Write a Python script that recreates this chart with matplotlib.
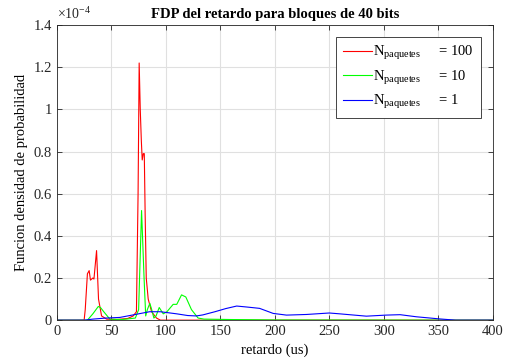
import matplotlib.pyplot as plt
from matplotlib.ticker import FuncFormatter

# retardo (us) vs densidad (x 1e-4)
x_100 = [0, 25, 26, 28, 29.6, 30.8, 33, 34, 36.4, 38.2, 41, 45.6, 55, 65, 70, 73,
         74.5, 75.5, 76.5, 77.5, 78.3, 79.3, 80.2, 81, 82, 83.8, 86.9, 91.4, 95, 400]
y_100 = [0, 0, 0.05, 0.22, 0.235, 0.19, 0.20, 0.195, 0.33, 0.10, 0.02, 0.005, 0.003, 0.008, 0.02, 0.04,
         0.6, 1.22, 1.0, 0.85, 0.76, 0.79, 0.79, 0.5, 0.2, 0.1, 0.04, 0.01, 0, 0]

x_10 = [0, 28, 33, 38, 40, 43, 48.6, 60, 72, 75, 77.7, 80, 81.5, 83, 85.3, 87, 89, 91,
        93.9, 97.6, 101, 106.7, 110, 114.4, 118.3, 123.5, 129.6, 135, 160, 200, 400]
y_10 = [0, 0, 0.03, 0.065, 0.06, 0.04, 0.005, 0.003, 0.01, 0.05, 0.52, 0.2, 0.02, 0.05, 0.08, 0.05, 0.01, 0.02,
        0.06, 0.03, 0.04, 0.075, 0.075, 0.12, 0.11, 0.05, 0.01, 0.005, 0.003, 0.001, 0]

x_1 = [0, 25, 33, 45, 57.8, 70, 85, 95, 110, 120, 128, 134, 145, 155, 165, 175, 186,
       198.5, 210.7, 229, 250, 259.6, 284, 302, 315, 330, 351, 366, 400]
y_1 = [0, 0, 0.005, 0.01, 0.013, 0.025, 0.04, 0.04, 0.03, 0.022, 0.02, 0.025, 0.04, 0.055, 0.067, 0.062, 0.056,
       0.032, 0.024, 0.027, 0.034, 0.03, 0.019, 0.024, 0.026, 0.016, 0.006, 0.0, 0]

labels = [r'$\mathregular{N_{paquetes}}$     = 100',
          r'$\mathregular{N_{paquetes}}$     = 10',
          r'$\mathregular{N_{paquetes}}$     = 1']

plt.rcParams['font.family'] = ['Liberation Serif', 'DejaVu Serif']
plt.rcParams['mathtext.fontset'] = 'custom'
plt.rcParams['mathtext.rm'] = 'Liberation Serif'

fig = plt.figure(figsize=(5.08, 3.63), dpi=100)
ax = fig.add_axes([0.112, 0.118, 0.858, 0.813])

sc = 1e-4
ax.plot(x_100, [v * sc for v in y_100], color='#ff0000', lw=0.8, label=labels[0])
ax.plot(x_10, [v * sc for v in y_10], color='#00ff00', lw=0.8, label=labels[1])
ax.plot(x_1, [v * sc for v in y_1], color='#0000ff', lw=0.8, label=labels[2])

ax.set_xlim(0, 400)
ax.set_ylim(0, 1.4e-4)
ax.set_xticks(range(0, 401, 50))
ax.set_yticks([i * 0.2e-4 for i in range(8)])
ax.yaxis.set_major_formatter(FuncFormatter(lambda v, p: '%g' % round(v / sc, 2)))
ax.grid(True, color='#e0e0e0', lw=0.8)
ax.set_axisbelow(True)
ax.tick_params(direction='in', top=True, right=True, labelsize=10.5, colors='#262626',
               length=3.5, width=0.6)
for s in ax.spines.values():
    s.set_color('#262626')
    s.set_linewidth(0.6)

ax.text(0, 1.01, r'$\times$10$^{-4}$', transform=ax.transAxes, fontsize=10, color='#262626',
        ha='left', va='bottom')
ax.set_title('FDP del retardo para bloques de 40 bits', fontsize=10.5, fontweight='bold', pad=5)
ax.set_xlabel('retardo (us)', fontsize=10.5)
ax.set_ylabel('Funcion densidad de probabilidad', fontsize=10.5)

leg = ax.legend(loc='upper right', fontsize=10.5, fancybox=False, framealpha=1,
                edgecolor='#262626', handlelength=2.0, handletextpad=0.1, borderpad=0.5,
                labelspacing=0.45, borderaxespad=0.8)
leg.get_frame().set_linewidth(0.6)

fig.savefig('out.png', dpi=100)
